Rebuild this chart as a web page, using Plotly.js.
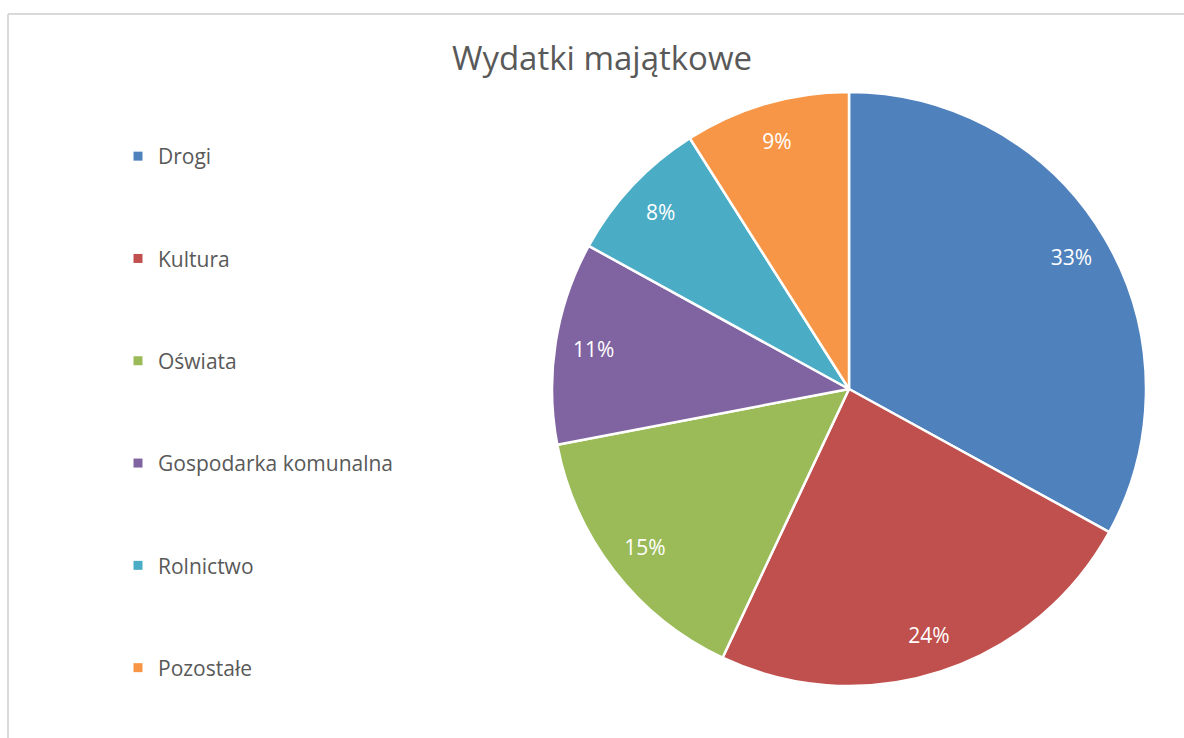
<!DOCTYPE html>
<html>
<head>
<meta charset="utf-8">
<script src="https://cdn.plot.ly/plotly-3.0.1.min.js"></script>
<style>
  html, body { margin: 0; padding: 0; background: #fff; }
  #chart { width: 1184px; height: 738px; }
</style>
</head>
<body>
<div id="chart"></div>
<script>
const categories = ["Drogi", "Kultura", "Oświata", "Gospodarka komunalna", "Rolnictwo", "Pozostałe"];
const shares = [33, 24, 15, 11, 8, 9];
const colors = ["#4F81BD", "#C0504D", "#9BBB59", "#8064A2", "#4BACC6", "#F79646"];
const chartTitle = "Wydatki majątkowe";

const W = 1184, H = 738;
const fontFam = "'Open Sans', 'Noto Sans', sans-serif";
const textGray = "#595959";
const pieDomain = { x: [552 / W, 1146 / W], y: [1 - 686 / H, 1 - 92 / H] };

// main pie: the coloured slices
const pie = {
  type: "pie",
  labels: categories,
  values: shares,
  sort: false,
  direction: "clockwise",
  rotation: 0,
  marker: { colors: colors, line: { color: "#ffffff", width: 2.5 } },
  textinfo: "none",
  domain: pieDomain,
  showlegend: false,
  hoverinfo: "label+percent"
};

// transparent ring on top, only to place the percentage labels near the rim
const labelRing = {
  type: "pie",
  labels: categories,
  values: shares,
  sort: false,
  direction: "clockwise",
  rotation: 0,
  hole: 0.74,
  marker: { colors: categories.map(() => "rgba(0,0,0,0)"), line: { width: 0 } },
  texttemplate: "%{value}%",
  textposition: "inside",
  insidetextorientation: "horizontal",
  textfont: { family: fontFam, size: 21, color: "#ffffff" },
  domain: pieDomain,
  showlegend: false,
  hoverinfo: "skip"
};

// legend entries (one per category, grouped so spacing can match)
const legendTraces = categories.map((c, i) => ({
  type: "scatter",
  mode: "markers",
  x: [null], y: [null],
  name: c,
  legendgroup: "g" + i,
  marker: { symbol: "square", size: 9, color: colors[i] },
  showlegend: true,
  hoverinfo: "skip"
}));

const layout = {
  width: W, height: H,
  margin: { l: 0, r: 0, t: 0, b: 0 },
  paper_bgcolor: "#ffffff",
  plot_bgcolor: "#ffffff",
  title: {
    text: chartTitle,
    font: { family: fontFam, size: 33, color: textGray },
    x: 602 / W, xanchor: "center",
    y: 1 - 58 / H, yanchor: "middle",
    xref: "paper", yref: "paper"
  },
  xaxis: { visible: false, domain: [0, 0.01] },
  yaxis: { visible: false, domain: [0, 0.01] },
  showlegend: true,
  legend: {
    x: 118 / W, xanchor: "left",
    y: 1 - 136 / H, yanchor: "top",
    traceorder: "grouped",
    tracegroupgap: 72,
    font: { family: fontFam, size: 21, color: textGray },
    bgcolor: "rgba(0,0,0,0)",
    itemclick: false, itemdoubleclick: false
  },
  shapes: [
    { type: "line", xref: "paper", yref: "paper", x0: 8 / W, x1: 8 / W, y0: 0, y1: 1 - 14 / H, line: { color: "#d9d9d9", width: 2 } },
    { type: "line", xref: "paper", yref: "paper", x0: 8 / W, x1: 1, y0: 1 - 14 / H, y1: 1 - 14 / H, line: { color: "#d9d9d9", width: 2 } }
  ]
};

Plotly.newPlot("chart", [pie, labelRing].concat(legendTraces), layout, { displayModeBar: false });
</script>
</body>
</html>
